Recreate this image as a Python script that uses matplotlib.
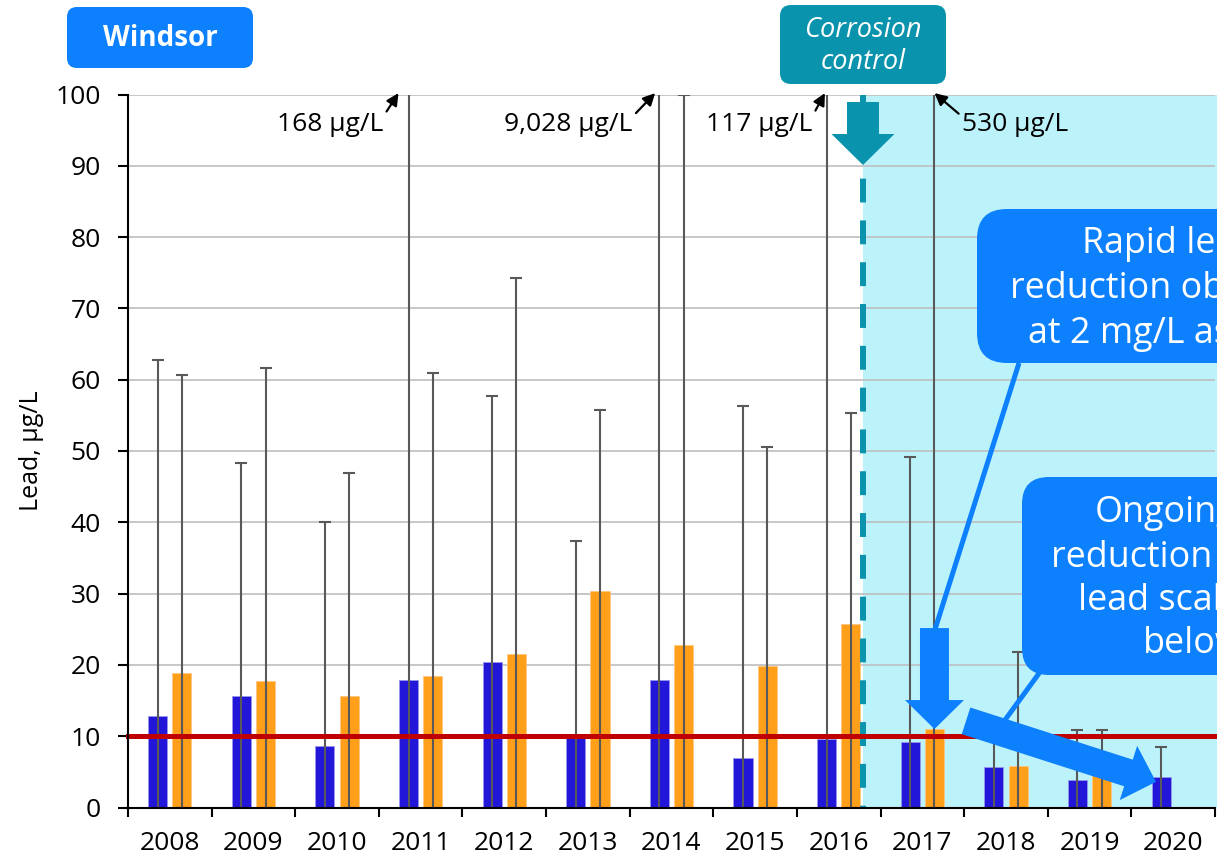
import numpy as np
import matplotlib
matplotlib.use("Agg")
import matplotlib.pyplot as plt
from matplotlib.patches import FancyBboxPatch, FancyArrow

plt.rcParams['font.family'] = ['Open Sans', 'DejaVu Sans']

# ---- data -------------------------------------------------------------
years = ['2008', '2009', '2010', '2011', '2012', '2013', '2014',
         '2015', '2016', '2017', '2018', '2019', '2020']
lead_blue = [12.8, 15.7, 8.6, 17.9, 20.4, 9.7, 17.9, 6.9, 9.6, 9.2, 5.7, 3.9, 4.3]
lead_orange = [18.9, 17.8, 15.6, 18.4, 21.5, 30.4, 22.8, 19.8, 25.8, 11.0, 5.8, 4.5, np.nan]
max_blue = [62.7, 48.3, 40.0, 168, 57.7, 37.4, 9028, 56.3, 117, 49.1, 11.0, 10.8, 8.5]
max_orange = [60.6, 61.6, 46.9, 60.9, 74.2, 55.8, 100.0, 50.5, 55.3, 530, 21.8, 10.8, np.nan]
action_level = 10
corrosion_control_start = 8.29      # position on the category axis
offscale_labels = ['168 µg/L', '9,028 µg/L', '117 µg/L', '530 µg/L']

# ---- style ------------------------------------------------------------
BLUE = '#2216D9'
ORANGE = '#FF9F1A'
RED = '#C00000'
CYAN = '#BCF3FB'
TEAL = '#0A93AD'
CALLOUT = '#0D80FE'
WHISKER = '#595959'
W, H = 1217, 866

fig = plt.figure(figsize=(W / 100, H / 100), dpi=100)
ax = fig.add_axes([128 / W, (H - 807.5) / H, 1087 / W, 713 / H])

x = np.arange(len(years))
off, bw = 0.145, 0.228
xb, xo = x - off, x + off
lb = np.array(lead_blue)
lo = np.array(lead_orange)
mb = np.array(max_blue, dtype=float)
mo = np.array(max_orange, dtype=float)

ax.set_xlim(-0.5, 12.5)
ax.set_ylim(0, 100)

# shaded period after corrosion control started
ax.axvspan(corrosion_control_start, 12.6, color=CYAN, lw=0, zorder=0.1, clip_on=False)

ax.set_axisbelow(True)
ax.yaxis.grid(True, color='#BEBEBE', lw=1.2)

ax.bar(xb, lb, bw, color=BLUE, edgecolor='#9a95ee', linewidth=0.6, zorder=2)
ok = ~np.isnan(lo)
ax.bar(xo[ok], lo[ok], bw, color=ORANGE, edgecolor='#ffc680', linewidth=0.6, zorder=2)

# whiskers from zero up to the maximum sample
ax.errorbar(xb, lb, yerr=[lb, mb - lb], fmt='none', ecolor=WHISKER,
            elinewidth=1.5, capsize=4.3, capthick=1.5, zorder=3)
ax.errorbar(xo[ok], lo[ok], yerr=[lo[ok], mo[ok] - lo[ok]], fmt='none',
            ecolor=WHISKER, elinewidth=1.5, capsize=4.3, capthick=1.5, zorder=3)

# corrosion-control start marker
ax.plot([corrosion_control_start] * 2, [100, 0], color=TEAL, lw=4.3,
        dashes=(4.0, 3.0), dash_capstyle='butt', zorder=3.5)

ax.axhline(action_level, color=RED, lw=3.6, zorder=5, xmax=1.01, clip_on=False)

# axes styling
for s in ('top', 'right'):
    ax.spines[s].set_visible(False)
for s in ('left', 'bottom'):
    ax.spines[s].set_linewidth(1.5)
    ax.spines[s].set_zorder(6)
ax.set_yticks(np.arange(0, 101, 10))
ax.set_xticks(x)
ax.set_xticklabels(years)
ax.set_xticks(np.arange(-0.5, 13, 1), minor=True)
ax.tick_params(axis='x', which='major', length=0, pad=17, labelsize=19)
ax.tick_params(axis='x', which='minor', length=6.5, width=1.5, direction='out')
ax.tick_params(axis='y', which='major', length=7, width=1.5, direction='out',
               pad=12.5, labelsize=19)
ax.set_ylabel('Lead, µg/L', fontsize=18)
ax.yaxis.set_label_coords(-0.089, 0.5)
ax.yaxis.label.set_verticalalignment('center')

# labels for whiskers running off the top of the scale
offscale_x = [xb[3], xb[6], xb[8], xo[9]]
tip_shift = [-0.12, -0.05, -0.02, 0.0]
text_x = [2.55, 5.53, 7.68, 9.48]
for lab, wx, sh, tx in zip(offscale_labels, offscale_x, tip_shift, text_x):
    right = tx < wx
    ax.annotate(lab, xy=(wx + sh, 100.2), xytext=(tx, 95.8),
                ha='right' if right else 'left', va='center', fontsize=19,
                annotation_clip=False, zorder=7,
                arrowprops=dict(arrowstyle='-|>', color='black', lw=1.6,
                                mutation_scale=18, shrinkA=1, shrinkB=0,
                                relpos=(1.0, 0.8) if right else (0.0, 0.8)))

# ---- overlay in pixel units for boxes and callouts ----------------------
def to_px(xv, yv):
    d = ax.transData.transform((xv, yv))
    return d[0], H - d[1]

ov = fig.add_axes([0, 0, 1, 1], zorder=10)
ov.set_xlim(0, W)
ov.set_ylim(H, 0)
ov.axis('off')

# title badge
ov.add_patch(FancyBboxPatch((67, 7), 186, 61, boxstyle='round,pad=0,rounding_size=10',
                            fc=CALLOUT, ec='none'))
ov.text(160, 38, 'Windsor', color='white', fontsize=20, fontweight='bold',
        ha='center', va='center')

# corrosion control badge and arrow
ccx, _ = to_px(corrosion_control_start, 100)
ov.add_patch(FancyBboxPatch((ccx - 83, 5), 166, 79, boxstyle='round,pad=0,rounding_size=11',
                            fc=TEAL, ec='none'))
ov.text(ccx, 30, 'Corrosion', color='white', fontsize=19.5, style='italic',
        ha='center', va='center')
ov.text(ccx, 62, 'control', color='white', fontsize=19.5, style='italic',
        ha='center', va='center')
ov.add_patch(FancyArrow(ccx, 102, 0, 63, width=32, head_width=63, head_length=31,
                        length_includes_head=True, fc=TEAL, ec='none'))

# callout arrows
tip1 = to_px(xo[9], lo[9])
tail1 = (tip1[0], tip1[1] - 101)
tip2 = to_px(xb[12] - 0.06, lb[12] - 0.7)
tail2 = (tip2[0] - 190, tip2[1] - 61)

ov.plot([1019, tail1[0]], [363, tail1[1] + 3], color=CALLOUT, lw=3.6,
        solid_capstyle='butt')
ov.plot([1040, 1005], [672, 720], color=CALLOUT, lw=3.6, solid_capstyle='butt')
ov.add_patch(FancyArrow(tail1[0], tail1[1], 0, 101, width=29, head_width=59,
                        head_length=29, length_includes_head=True, fc=CALLOUT, ec='none'))
ov.add_patch(FancyArrow(tail2[0], tail2[1], 190, 61, width=28, head_width=57,
                        head_length=29, length_includes_head=True, fc=CALLOUT, ec='none'))

# callout boxes (run past the right edge)
ov.add_patch(FancyBboxPatch((977, 209), 450, 154, boxstyle='round,pad=0,rounding_size=30',
                            fc=CALLOUT, ec='none'))
ov.add_patch(FancyBboxPatch((1022, 477), 420, 198, boxstyle='round,pad=0,rounding_size=27',
                            fc=CALLOUT, ec='none'))

callout1 = [('Rapid lead', 1082, 253), ('reduction observed', 1010, 298),
            ('at 2 mg/L as PO4', 1028, 343)]
callout2 = [('Ongoing', 1095, 522), ('reduction in', 1051, 567),
            ('lead scale', 1078, 610), ('below', 1143, 653)]
for txt, tx, ty in callout1 + callout2:
    ov.text(tx, ty, txt, color='white', fontsize=25.8, ha='left', va='baseline')

fig.savefig('out.png', dpi=100)
